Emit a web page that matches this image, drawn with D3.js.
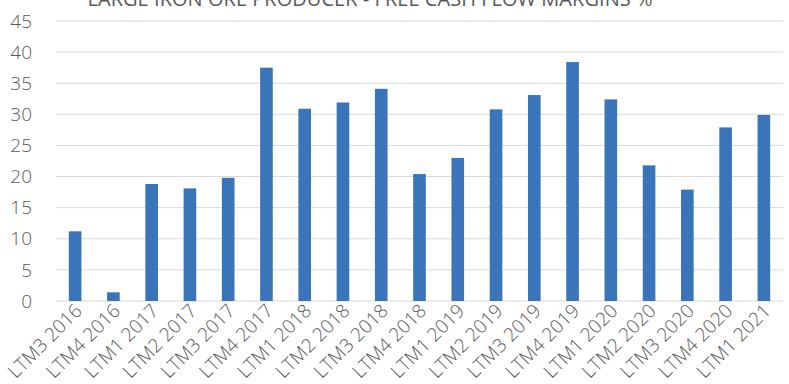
<!DOCTYPE html>
<html>
<head>
<meta charset="utf-8">
<script src="https://cdn.jsdelivr.net/npm/d3@7"></script>
<style>
  body { margin: 0; background: #fff; }
  text { font-family: "Open Sans", "Noto Sans", sans-serif; font-weight: 300; fill: #595959; }
</style>
</head>
<body>
<div id="chart"></div>
<script>
const title = "LARGE IRON ORE PRODUCER - FREE CASH FLOW MARGINS %";
const periods = ["LTM3 2016", "LTM4 2016", "LTM1 2017", "LTM2 2017", "LTM3 2017", "LTM4 2017",
  "LTM1 2018", "LTM2 2018", "LTM3 2018", "LTM4 2018", "LTM1 2019", "LTM2 2019", "LTM3 2019",
  "LTM4 2019", "LTM1 2020", "LTM2 2020", "LTM3 2020", "LTM4 2020", "LTM1 2021"];
const margins = [11.2, 1.4, 18.8, 18.1, 19.8, 37.5, 30.9, 31.9, 34.1, 20.4, 23.0, 30.8, 33.1,
  38.4, 32.4, 21.8, 17.9, 27.9, 29.9];
const yTicks = [0, 5, 10, 15, 20, 25, 30, 35, 40, 45];

const W = 789, H = 384;
const margin = { top: 21, right: 6, bottom: 83, left: 56 };
const width = W - margin.left - margin.right;
const height = H - margin.top - margin.bottom;

const svg = d3.select("#chart").append("svg")
  .attr("width", W).attr("height", H);

svg.append("text")
  .attr("x", 370).attr("y", 6)
  .attr("text-anchor", "middle")
  .style("font-size", "20px")
  .style("font-weight", 400)
  .attr("textLength", 565)
  .text(title);

const g = svg.append("g").attr("transform", `translate(${margin.left},${margin.top})`);

const x = d3.scaleBand().domain(periods).range([0, width])
  .paddingInner(0.67).paddingOuter(0.335);
const y = d3.scaleLinear().domain([0, 45]).range([height, 0]);

// gridlines
g.selectAll("line.grid")
  .data(yTicks)
  .enter().append("line")
  .attr("class", "grid")
  .attr("x1", 0).attr("x2", width)
  .attr("y1", d => y(d)).attr("y2", d => y(d))
  .attr("stroke", "#d9d9d9").attr("stroke-width", 1);

// y labels
g.selectAll("text.ylab")
  .data(yTicks)
  .enter().append("text")
  .attr("class", "ylab")
  .attr("x", -24)
  .attr("y", d => y(d))
  .attr("dy", "0.35em")
  .attr("text-anchor", "end")
  .style("font-size", "19px")
  .text(d => d);

// bars
g.selectAll("rect.bar")
  .data(periods)
  .enter().append("rect")
  .attr("class", "bar")
  .attr("x", d => x(d))
  .attr("width", x.bandwidth())
  .attr("y", (d, i) => y(margins[i]))
  .attr("height", (d, i) => height - y(margins[i]))
  .attr("fill", "#3a75ba");

// x labels
g.selectAll("text.xlab")
  .data(periods)
  .enter().append("text")
  .attr("class", "xlab")
  .attr("text-anchor", "end")
  .style("font-size", "19px")
  .attr("transform", d => `translate(${x(d) + x.bandwidth() / 2 + 8},${height + 11}) rotate(-45)`)
  .text(d => d);
</script>
</body>
</html>
